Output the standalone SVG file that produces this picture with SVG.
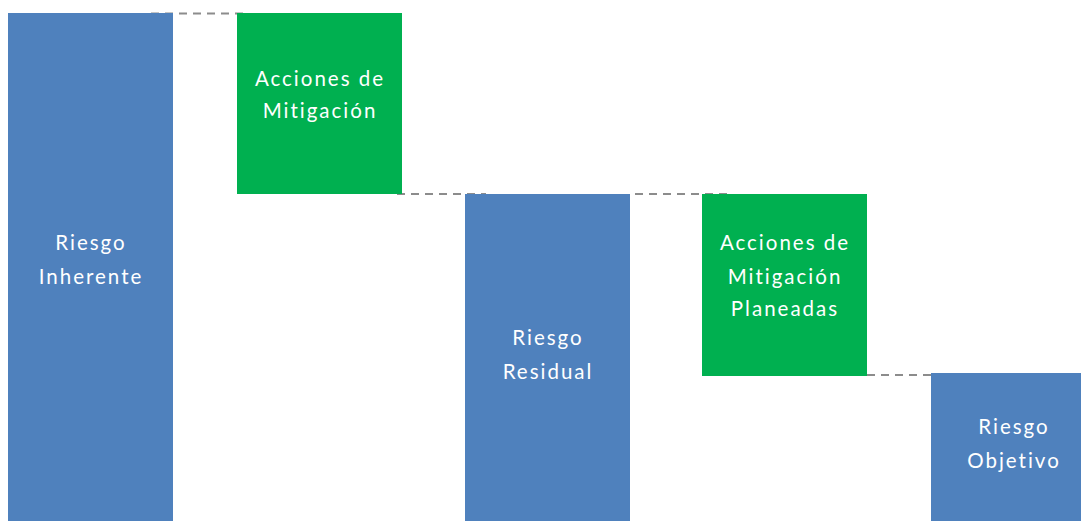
<svg xmlns="http://www.w3.org/2000/svg" width="1081" height="521" viewBox="0 0 1081 521">
  <style>
    .risk { fill: #4F81BD; }
    .action { fill: #00B050; }
    .lbl { font-family: Lato, "Open Sans", sans-serif; font-size: 20.5px; fill: #FFFFFF; text-anchor: middle; letter-spacing: 2px; }
    .link { stroke: #8C8C8C; stroke-width: 2; stroke-dasharray: 8 6; fill: none; }
  </style>
  <rect width="1081" height="521" fill="#FFFFFF"/>

  <!-- dashed step connectors -->
  <g id="connectors">
    <line class="link" x1="151" y1="13.5" x2="244" y2="13.5"/>
    <line class="link" x1="397" y1="194" x2="486" y2="194"/>
    <line class="link" x1="635" y1="194" x2="730" y2="194"/>
    <line class="link" x1="867" y1="375" x2="960" y2="375"/>
  </g>

  <g id="riesgo-inherente">
    <rect class="risk" x="8" y="13" width="165" height="508"/>
    <text class="lbl" x="91" y="250">Riesgo</text>
    <text class="lbl" x="91" y="284">Inherente</text>
  </g>

  <g id="acciones-mitigacion">
    <rect class="action" x="237" y="13" width="165" height="181"/>
    <text class="lbl" x="320" y="86">Acciones de</text>
    <text class="lbl" x="320" y="118">Mitigación</text>
  </g>

  <g id="riesgo-residual">
    <rect class="risk" x="465" y="194" width="165" height="327"/>
    <text class="lbl" x="548" y="345">Riesgo</text>
    <text class="lbl" x="548" y="379">Residual</text>
  </g>

  <g id="acciones-planeadas">
    <rect class="action" x="702" y="194" width="165" height="182"/>
    <text class="lbl" x="785" y="250">Acciones de</text>
    <text class="lbl" x="785" y="284">Mitigación</text>
    <text class="lbl" x="785" y="316">Planeadas</text>
  </g>

  <g id="riesgo-objetivo">
    <rect class="risk" x="931" y="373" width="165" height="148"/>
    <text class="lbl" x="1014" y="434">Riesgo</text>
    <text class="lbl" x="1014" y="468">Objetivo</text>
  </g>
</svg>
